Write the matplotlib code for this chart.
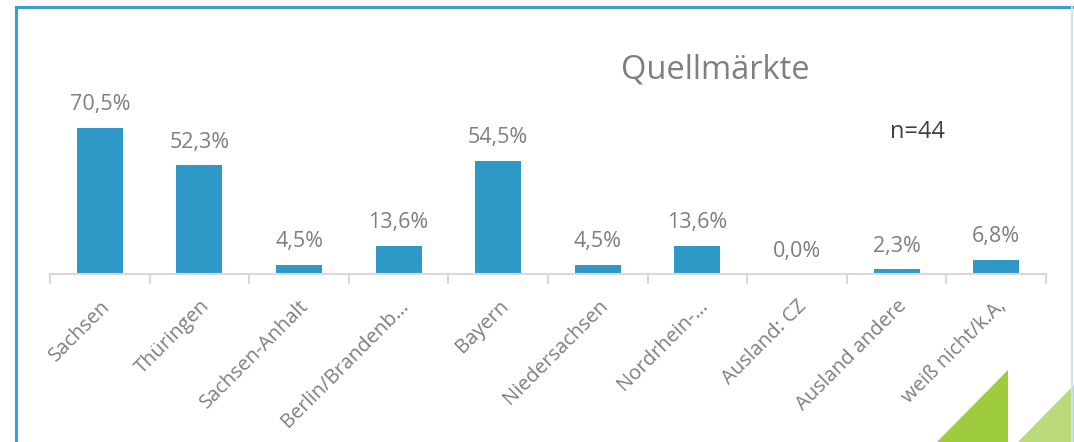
import matplotlib
matplotlib.use("Agg")
import matplotlib.pyplot as plt
from matplotlib.patches import Polygon
from matplotlib.lines import Line2D

categories = ["Sachsen", "Thüringen", "Sachsen-Anhalt", "Berlin/Brandenb…", "Bayern",
              "Niedersachsen", "Nordrhein-…", "Ausland: CZ", "Ausland andere", "weiß nicht/k.A,"]
values = [70.5, 52.3, 4.5, 13.6, 54.5, 4.5, 13.6, 0.0, 2.3, 6.8]
value_labels = ["70,5%", "52,3%", "4,5%", "13,6%", "54,5%", "4,5%", "13,6%", "0,0%", "2,3%", "6,8%"]
title = "Quellmärkte"
note = "n=44"

plt.rcParams['font.family'] = ['Open Sans', 'DejaVu Sans']
W, H = 1074, 442
fig = plt.figure(figsize=(W / 100, H / 100), dpi=100)
fig.patch.set_facecolor("white")

def fx(x): return x / W
def fy(y): return 1 - y / H

# decorative green triangles
fig.patches.append(Polygon([[fx(937), fy(442)], [fx(1008), fy(370)], [fx(1008), fy(442)]],
                           closed=True, transform=fig.transFigure, facecolor="#9fcc3f",
                           edgecolor="none", zorder=0))
fig.patches.append(Polygon([[fx(1018), fy(442)], [fx(1074), fy(385)], [fx(1074), fy(442)]],
                           closed=True, transform=fig.transFigure, facecolor="#bcd97c",
                           edgecolor="none", zorder=0))
# frame
fig.lines.append(Line2D([fx(16), fx(16)], [fy(442), fy(7)], transform=fig.transFigure,
                        color="#3a9fd0", lw=2.2))
fig.lines.append(Line2D([fx(16), fx(1072)], [fy(7), fy(7)], transform=fig.transFigure,
                        color="#3a9fd0", lw=2.2))
fig.lines.append(Line2D([fx(1072), fx(1072)], [fy(7), fy(442)], transform=fig.transFigure,
                        color="#cfe3ee", lw=1.5))

ax = fig.add_axes([fx(50), fy(274), fx(1046) - fx(50), fy(108) - fy(274)])
ax.set_facecolor("none")
x = list(range(len(categories)))
bars = ax.bar(x, values, width=0.46, color="#2e98c7", zorder=2)
ax.set_xlim(-0.5, len(categories) - 0.5)
ax.set_ylim(0, 80)
for xi, v, lab in zip(x, values, value_labels):
    ax.annotate(lab, (xi, v), xytext=(0, 9), textcoords="offset points",
                ha="center", va="bottom", fontsize=15.5, color="#7f7f7f")

for s in ["top", "right", "left"]:
    ax.spines[s].set_visible(False)
ax.spines["bottom"].set_color("#d9d9d9")
ax.spines["bottom"].set_linewidth(1.5)
ax.set_yticks([])
ax.set_xticks([i - 0.5 for i in range(len(categories) + 1)], minor=False)
ax.set_xticklabels([])
ax.tick_params(axis="x", which="major", length=7, width=1.5, color="#d9d9d9")
ax.set_xticks(x, minor=True)
ax.set_xticklabels(categories, minor=True, rotation=45, ha="right", rotation_mode="anchor",
                   fontsize=14.5, color="#7f7f7f")
ax.tick_params(axis="x", which="minor", length=0, pad=16)

fig.text(fx(715), fy(70), title, ha="center", va="center", fontsize=23.5, color="#7f7f7f")
fig.text(fx(918), fy(132), note, ha="center", va="center", fontsize=17, color="#404040")

fig.savefig("out.png", dpi=100, facecolor="white")
